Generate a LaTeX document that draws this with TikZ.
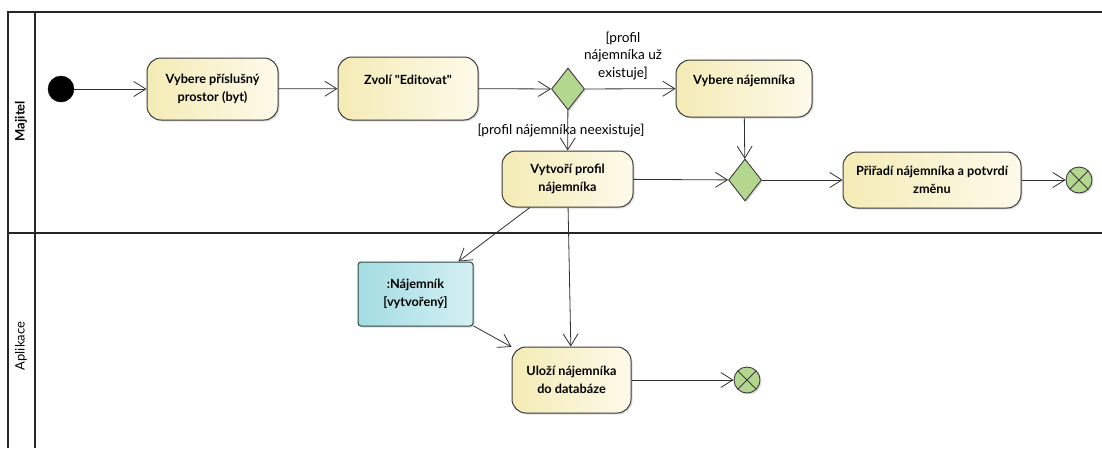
\documentclass[tikz,border=0pt]{standalone}
\usepackage{fontspec}
\setmainfont{Lato}
\usetikzlibrary{arrows.meta,shapes.geometric,shadows}
\definecolor{actL}{HTML}{F4EBB5}
\definecolor{actR}{HTML}{FDFAEA}
\definecolor{objL}{HTML}{A3DCE2}
\definecolor{objR}{HTML}{D4F0F3}
\definecolor{decC}{HTML}{B3D78F}
\definecolor{edgeC}{HTML}{303030}
\definecolor{bordC}{HTML}{3A3A3A}
\begin{document}
\begin{tikzpicture}[x=1pt,y=-1pt,
  shad/.style={drop shadow={shadow xshift=1.5pt,shadow yshift=-1.5pt,opacity=0.22,fill=black!60}},
  action/.style={shape=rectangle, draw=bordC, line width=1pt, rounded corners=14pt,
    left color=actL, right color=actR, align=center, inner sep=0pt,
    font=\fontsize{12.7}{17.5}\selectfont\bfseries, shad},
  objnode/.style={shape=rectangle, draw=bordC!80!teal, line width=1pt, rounded corners=3pt,
    left color=objL, right color=objR, align=center, inner sep=0pt,
    font=\fontsize{12.7}{18.5}\selectfont\bfseries, shad},
  decision/.style={shape=diamond, draw=bordC, line width=0.9pt, fill=decC, inner sep=0pt,
    minimum width=33pt, minimum height=42pt, shad},
  initial/.style={shape=circle, fill=black, draw=black, minimum size=26pt, inner sep=0pt},
  final/.style={shape=circle, draw=bordC, line width=0.9pt, fill=decC, minimum size=26pt, inner sep=0pt, shad,
    path picture={\draw[line width=0.9pt,bordC] (path picture bounding box.south west) -- (path picture bounding box.north east)
      (path picture bounding box.north west) -- (path picture bounding box.south east);}},
  flow/.style={draw=edgeC, line width=0.8pt, -{Straight Barb[length=12pt,width=15pt,line width=0.8pt]}},
  guard/.style={font=\fontsize{13.6}{17.5}\selectfont, align=center, inner sep=0pt},
  lane/.style={line width=1.4pt, draw=black!85},
  lanelabel/.style={rotate=90, inner sep=0pt, font=\fontsize{13}{15}\selectfont}
]
\useasboundingbox (0,0) rectangle (1102,448);
% swimlane frame
\draw[lane] (8,448) -- (8,12) -- (1102,12);
\draw[lane] (35,12) -- (35,448);
\draw[lane] (8,233) -- (1102,233);
\node[lanelabel, font=\fontsize{13}{15}\selectfont\bfseries] (lMaj) at (21,121) {Majitel};
\node[lanelabel] (lApl) at (21,346) {Aplikace};

% nodes
\node[initial] (init) at (61,89) {};
\node[action, minimum width=131pt, minimum height=62pt] (V1) at (212.5,89) {Vybere příslušný\\prostor (byt)};
\node[action, minimum width=140pt, minimum height=63pt] (ZE) at (408,88.5) {Zvolí \textquotedbl Editovat\textquotedbl\\\mbox{}};
\node[decision] (D1) at (568,89) {};
\node[action, minimum width=136pt, minimum height=57pt] (VN) at (744,88.5) {Vybere nájemníka\\\mbox{}};
\node[decision] (D2) at (745,180) {};
\node[action, minimum width=131pt, minimum height=56pt] (VP) at (567.5,179) {Vytvoří profil\\nájemníka};
\node[action, minimum width=178pt, minimum height=56pt] (PR) at (932,180) {Přiřadí nájemníka a potvrdí\\změnu};
\node[final] (F1) at (1079,180) {};
\node[objnode, minimum width=115pt, minimum height=64pt] (OB) at (415.5,294) {:Nájemník\\{[}vytvořený{]}};
\node[action, minimum width=119pt, minimum height=66pt] (UL) at (571.5,380) {Uloží nájemníka\\do databáze};
\node[final] (F2) at (747,380) {};

% guards
\node[guard] (g1) at (623,56) {[profil\\nájemníka už\\existuje]};
\node[guard] (g2) at (561,131) {[profil nájemníka neexistuje]};

% flows
\draw[flow] (init) -- (V1);
\draw[flow] (V1) -- (ZE);
\draw[flow] (ZE) -- (D1);
\draw[flow] (D1) -- (VN);
\draw[flow] (D1) -- (VP);
\draw[flow] (VN) -- (D2);
\draw[flow] (VP) -- (D2);
\draw[flow] (D2) -- (PR);
\draw[flow] (PR) -- (F1);
\draw[flow] (VP) -- (OB);
\draw[flow] (VP) -- (UL);
\draw[flow] (OB) -- (UL);
\draw[flow] (UL) -- (F2);
\end{tikzpicture}
\end{document}
